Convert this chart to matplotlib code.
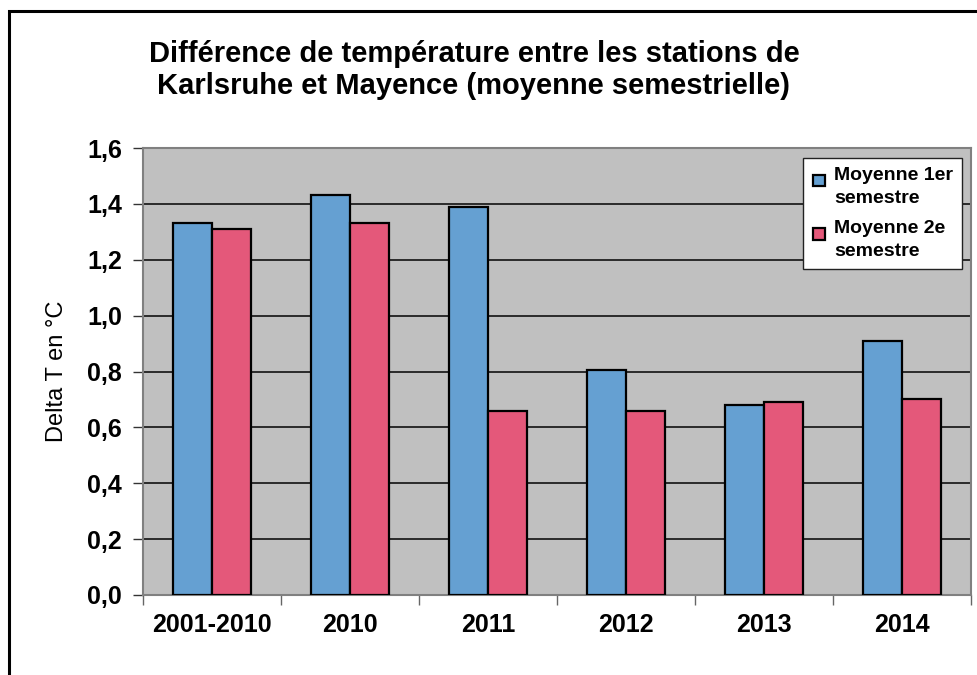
import matplotlib
matplotlib.use("Agg")
import matplotlib.pyplot as plt
import numpy as np
from matplotlib.patches import Rectangle
from matplotlib.legend_handler import HandlerPatch

categories = ["2001-2010", "2010", "2011", "2012", "2013", "2014"]
sem1 = [1.33, 1.43, 1.39, 0.805, 0.68, 0.91]
sem2 = [1.31, 1.33, 0.66, 0.66, 0.69, 0.70]
yticks = [0.0, 0.2, 0.4, 0.6, 0.8, 1.0, 1.2, 1.4, 1.6]
labels = ['Moyenne 1er\nsemestre', 'Moyenne 2e\nsemestre']

plt.rcParams['font.family'] = ['Liberation Sans', 'DejaVu Sans']

W, H = 978, 675
fig = plt.figure(figsize=(W/100, H/100), dpi=100)
fig.patch.set_facecolor('white')

# outer frame
fig.add_artist(Rectangle((9/W, -0.1), 1.2, (H-11)/H + 0.1, transform=fig.transFigure,
                         fill=False, edgecolor='black', linewidth=2.2))

left, right, top, bottom = 143, 971, 148, 595
ax = fig.add_axes([left/W, 1-bottom/H, (right-left)/W, (bottom-top)/H])
ax.set_facecolor('#c0c0c0')

x = np.arange(len(categories))
bw = 0.283
b1 = ax.bar(x - bw/2, sem1, width=bw, color='#65a0d2', edgecolor='black', linewidth=1.6,
            zorder=3)
b2 = ax.bar(x + bw/2, sem2, width=bw, color='#e4587a', edgecolor='black', linewidth=1.6,
            zorder=3)

ax.set_xlim(-0.5, len(categories) - 0.5)
ax.set_ylim(0, 1.6)
ax.set_yticks(yticks)
ax.set_yticklabels([f"{v:.1f}".replace('.', ',') for v in yticks],
                   fontsize=18, fontweight='bold')
ax.yaxis.grid(True, color='#111111', linewidth=1.2, zorder=1)
ax.set_axisbelow(True)

ax.set_xticks(x)
ax.set_xticklabels(categories, fontsize=18, fontweight='bold')
ax.tick_params(axis='x', length=0, pad=13)
ax.set_xticks(np.arange(-0.5, len(categories), 1.0), minor=True)
ax.tick_params(axis='x', which='minor', length=7, color='#666666', width=1)
ax.tick_params(axis='y', length=7, color='#333333', width=1, pad=8)

for s in ['left', 'top', 'right', 'bottom']:
    ax.spines[s].set_color('#808080')
    ax.spines[s].set_linewidth(1.5)

ax.set_ylabel('Delta T en °C', fontsize=17, labelpad=14)

fig.text(474/W, 1-70/H, "Différence de température entre les stations de\nKarlsruhe et Mayence (moyenne semestrielle)",
         ha='center', va='center', fontsize=21, fontweight='bold', linespacing=1.22)


def top_square(legend, orig_handle, xdescent, ydescent, width, height, fontsize):
    s = 0.6 * fontsize
    return Rectangle((-xdescent + (width - s) / 2, -ydescent + height - s - 0.3 * fontsize), s, s)


leg = ax.legend([b1.patches[0], b2.patches[0]], labels,
                loc='upper right', bbox_to_anchor=(0.989, 0.977), borderaxespad=0,
                prop={'weight': 'bold', 'size': 14}, frameon=True, fancybox=False,
                framealpha=1, facecolor='white',
                edgecolor='#222222', handlelength=0.75, handleheight=2.6,
                handletextpad=0.4, borderpad=0.45, labelspacing=0.7,
                handler_map={Rectangle: HandlerPatch(patch_func=top_square)})
leg.get_frame().set_linewidth(1.0)
for t in leg.get_texts():
    t.set_linespacing(1.45)

fig.savefig('out.png', dpi=100)
